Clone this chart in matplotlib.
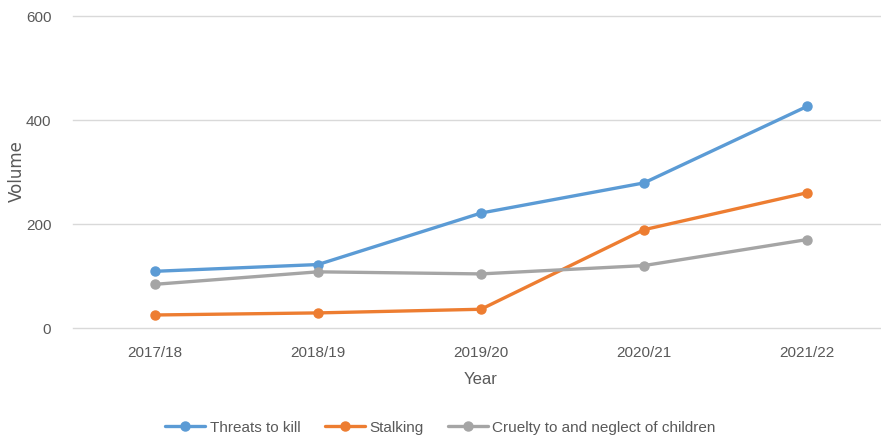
import matplotlib.pyplot as plt

# data
years = ["2017/18", "2018/19", "2019/20", "2020/21", "2021/22"]
threats_to_kill = [109, 122, 221, 279, 426]
stalking = [25, 29, 36, 189, 260]
cruelty_neglect = [84, 108, 104, 120, 170]

series_names = ["Threats to kill", "Stalking", "Cruelty to and neglect of children"]
series_colors = ["#5B9BD5", "#ED7D31", "#A5A5A5"]

plt.rcParams["font.family"] = ["Liberation Sans", "DejaVu Sans"]
text_color = "#595959"

fig = plt.figure(figsize=(8.81, 4.39), dpi=100)
ax = fig.add_axes([0.0834, 0.2506, 0.925, 0.7107])

x = range(len(years))
for vals, name, col in zip([threats_to_kill, stalking, cruelty_neglect], series_names, series_colors):
    ax.plot(x, vals, color=col, linewidth=2.4, marker="o", markersize=6.5,
            label=name, solid_capstyle="round")

ax.set_xlim(-0.5, len(years) - 0.5)
ax.set_ylim(0, 600)
ax.set_yticks([0, 200, 400, 600])
ax.set_xticks(list(x))
ax.set_xticklabels(years)
ax.grid(axis="y", color="#D9D9D9", linewidth=1)
for gl in ax.get_ygridlines():
    gl.set_clip_on(False)
ax.set_axisbelow(True)
for s in ax.spines.values():
    s.set_visible(False)
ax.tick_params(length=0, colors=text_color, labelsize=11)
ax.tick_params(axis="x", pad=12)
ax.tick_params(axis="y", pad=16)

ax.set_xlabel("Year", color=text_color, fontsize=12, labelpad=9)
fig.text(0.019, 0.61, "Volume", rotation=90, ha="center", va="center",
         color=text_color, fontsize=12, family=["DejaVu Sans"])

leg = fig.legend(loc="center", bbox_to_anchor=(0.5, 0.025), ncol=3,
                 frameon=False, fontsize=11, handlelength=2.6, columnspacing=1.6,
                 handletextpad=0.3, borderpad=0.1)
for t in leg.get_texts():
    t.set_color(text_color)

fig.savefig("out.png", dpi=100)
